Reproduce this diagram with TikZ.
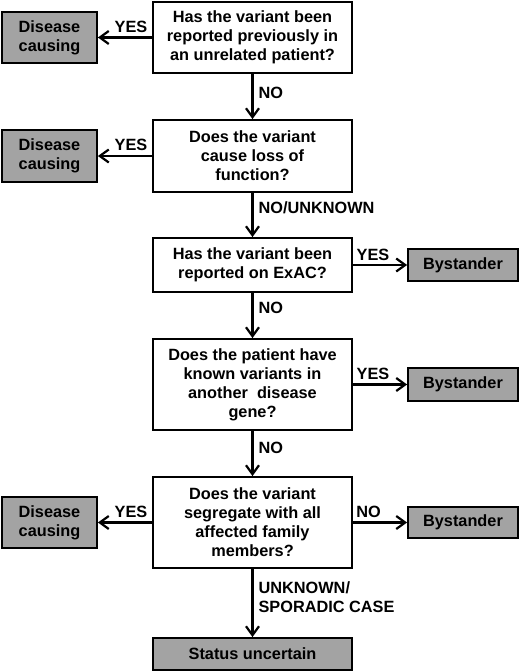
\documentclass[tikz,border=0pt]{standalone}
\usepackage{fontspec}
\setmainfont{Liberation Sans}
\usetikzlibrary{arrows.meta}
\definecolor{boxgray}{RGB}{163,163,163}
\begin{document}
\begin{tikzpicture}[x=1pt,y=-1pt,
  every node/.style={font=\bfseries\fontsize{16.3}{19}\selectfont},
  qbox/.style={draw, line width=1.8pt, fill=white, rectangle, align=center, inner sep=0pt, minimum width=199pt},
  gbox/.style={draw, line width=1.8pt, fill=boxgray, rectangle, align=center, inner sep=0pt},
  arr/.style={line width=2.2pt, -{Straight Barb[length=9pt,width=13pt,line width=2.2pt]}},
  lab/.style={inner sep=0pt}
]
\useasboundingbox (0,0) rectangle (520,672);
% main questions
\node[qbox, minimum height=71pt] (q1) at (252.5,37.5) {Has the variant been\\reported previously in\\an unrelated patient?};
\node[qbox, minimum height=72pt] (q2) at (252.5,156) {Does the variant\\cause loss of\\function?};
\node[qbox, minimum height=54pt] (q3) at (252.5,265) {Has the variant been\\reported on ExAC?};
\node[qbox, minimum height=91pt] (q4) at (252.5,384.5) {Does the patient have\\known variants in\\another\ \ disease\\gene?};
\node[qbox, minimum height=91pt] (q5) at (252.5,522.5) {Does the variant\\segregate with all\\affected family\\members?};
\node[gbox, minimum width=199pt, minimum height=32pt] (s6) at (252.5,654) {Status uncertain};
% outcomes
\node[gbox, minimum width=95pt, minimum height=51pt] (d1) at (49.5,37.5) {Disease\\causing};
\node[gbox, minimum width=95pt, minimum height=52pt] (d2) at (49.5,156) {Disease\\causing};
\node[gbox, minimum width=95pt, minimum height=51pt] (d5) at (49.5,522.5) {Disease\\causing};
\node[gbox, minimum width=110pt, minimum height=32pt] (b3) at (463,265) {Bystander};
\node[gbox, minimum width=110pt, minimum height=33pt] (b4) at (463,384.5) {Bystander};
\node[gbox, minimum width=110pt, minimum height=31pt] (b5) at (463,522.5) {Bystander};
% connectors
\draw[arr] (q1.west) -- node[lab, above=4pt, pos=0.39] (l1) {YES} (d1.east);
\draw[arr] (q1.south) -- node[lab, right=5pt, pos=0.42] (l2) {NO} (q2.north);
\draw[arr] (q2.west) -- node[lab, above=4pt, pos=0.39] (l3) {YES} (d2.east);
\draw[arr] (q2.south) -- node[lab, right=5pt, pos=0.34] (l4) {NO/UNKNOWN} (q3.north);
\draw[arr] (q3.east) -- node[lab, above=3.5pt, pos=0.37] (l5) {YES} (b3.west);
\draw[arr] (q3.south) -- node[lab, right=5pt, pos=0.34] (l6) {NO} (q4.north);
\draw[arr] (q4.east) -- node[lab, above=3.5pt, pos=0.37] (l7) {YES} (b4.west);
\draw[arr] (q4.south) -- node[lab, right=5pt, pos=0.38] (l8) {NO} (q5.north);
\draw[arr] (q5.west) -- node[lab, above=4pt, pos=0.39] (l9) {YES} (d5.east);
\draw[arr] (q5.east) -- node[lab, above=4pt, pos=0.29] (l10) {NO} (b5.west);
\draw[arr] (q5.south) -- node[lab, right=5pt, pos=0.42, align=left] (l11) {UNKNOWN/\\SPORADIC CASE} (s6.north);
\end{tikzpicture}
\end{document}
